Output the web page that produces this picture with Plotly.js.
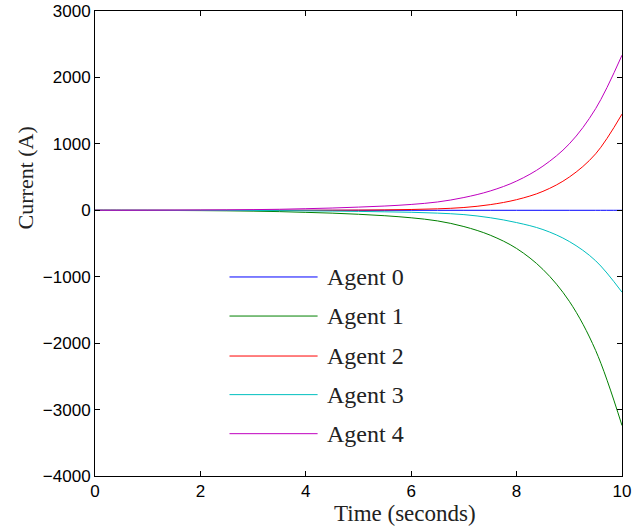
<!DOCTYPE html>
<html>
<head>
<meta charset="utf-8">
<script src="https://cdn.plot.ly/plotly-3.0.1.min.js"></script>
<style>html,body{margin:0;padding:0;background:#fff;}#chart{width:642px;height:527px;}</style>
</head>
<body>
<div id="chart"></div>
<script>
// Data
const time = [0,0.5,1,1.5,2,2.5,3,3.5,4,4.5,5,5.5,6,6.5,7,7.5,8,8.5,9,9.5,10];
const agent0 = [0,0,0,0,0,0,0,0,0,0,0,0,0,0,0,0,0,0,0,0,0];
const agent1 = [0,-1,-2,-3,-5,-8,-13,-20,-31,-43,-60,-82,-113,-160,-245,-375,-575,-890,-1370,-2110,-3240];
const agent2 = [0,0,0,0,0,0,0,0,0,1,3,6,12,22,42,85,160,285,500,850,1448];
const agent3 = [0,0,0,-1,-1,-2,-3,-5,-8,-12,-17,-23,-30,-43,-65,-112,-185,-290,-470,-760,-1233];
const agent4 = [0,0,1,2,4,6,10,15,24,34,48,64,88,125,192,291,440,665,1000,1530,2335];
const seriesNames = ["Agent 0","Agent 1","Agent 2","Agent 3","Agent 4"];
const seriesColors = ["#0000ff","#008000","#ff0000","#00bfbf","#bf00bf"];
const seriesValues = [agent0, agent1, agent2, agent3, agent4];
const xTicks = [0,2,4,6,8,10];
const yTicks = [-4000,-3000,-2000,-1000,0,1000,2000,3000];

const traces = seriesValues.map((v, i) => ({
  x: time, y: v, type: "scatter", mode: "lines", name: seriesNames[i],
  line: {color: seriesColors[i], width: 1, shape: "spline", smoothing: 1},
  showlegend: false, hoverinfo: "skip"
}));

// Manual legend (MATLAB style, no box) in paper coordinates
const legX0 = 0.2552, legX1 = 0.4224, legTextX = 0.437;
const legY = [0.428, 0.344, 0.258, 0.175, 0.091];
const shapes = seriesNames.map((n, i) => ({
  type: "line", xref: "paper", yref: "paper",
  x0: legX0, x1: legX1, y0: legY[i], y1: legY[i],
  line: {color: seriesColors[i], width: 1}
}));
const annotations = seriesNames.map((n, i) => ({
  text: n, xref: "paper", yref: "paper", x: legTextX, y: legY[i],
  xanchor: "left", yanchor: "middle", showarrow: false,
  font: {family: "Liberation Serif, Times New Roman, serif", size: 24, color: "#222"}
}));
annotations.push({
  text: "Time (seconds)", xref: "paper", yref: "paper", x: 0.588, y: -0.08,
  xanchor: "center", yanchor: "middle", showarrow: false,
  font: {family: "Liberation Serif, Times New Roman, serif", size: 23, color: "#222"}
});
annotations.push({
  text: "Current (A)", xref: "paper", yref: "paper", x: -0.1328, y: 0.64,
  xanchor: "center", yanchor: "middle", showarrow: false, textangle: -90,
  font: {family: "Liberation Serif, Times New Roman, serif", size: 22, color: "#222"}
});

const axisCommon = {
  showgrid: false, zeroline: false, showline: true, linecolor: "#000", linewidth: 1,
  mirror: "ticks", ticks: "inside", ticklen: 5, tickwidth: 1, tickcolor: "#000",
  tickfont: {family: "Liberation Sans, Arial, sans-serif", size: 17, color: "#000"}
};

const layout = {
  width: 642, height: 527,
  margin: {l: 95, r: 20, t: 11, b: 51},
  paper_bgcolor: "#fff", plot_bgcolor: "#fff",
  showlegend: false,
  xaxis: Object.assign({}, axisCommon, {range: [0, 10], tickvals: xTicks}),
  yaxis: Object.assign({}, axisCommon, {range: [-4000, 3000], tickvals: yTicks}),
  shapes: shapes,
  annotations: annotations
};

Plotly.newPlot("chart", traces, layout, {staticPlot: true, displayModeBar: false});
</script>
</body>
</html>
